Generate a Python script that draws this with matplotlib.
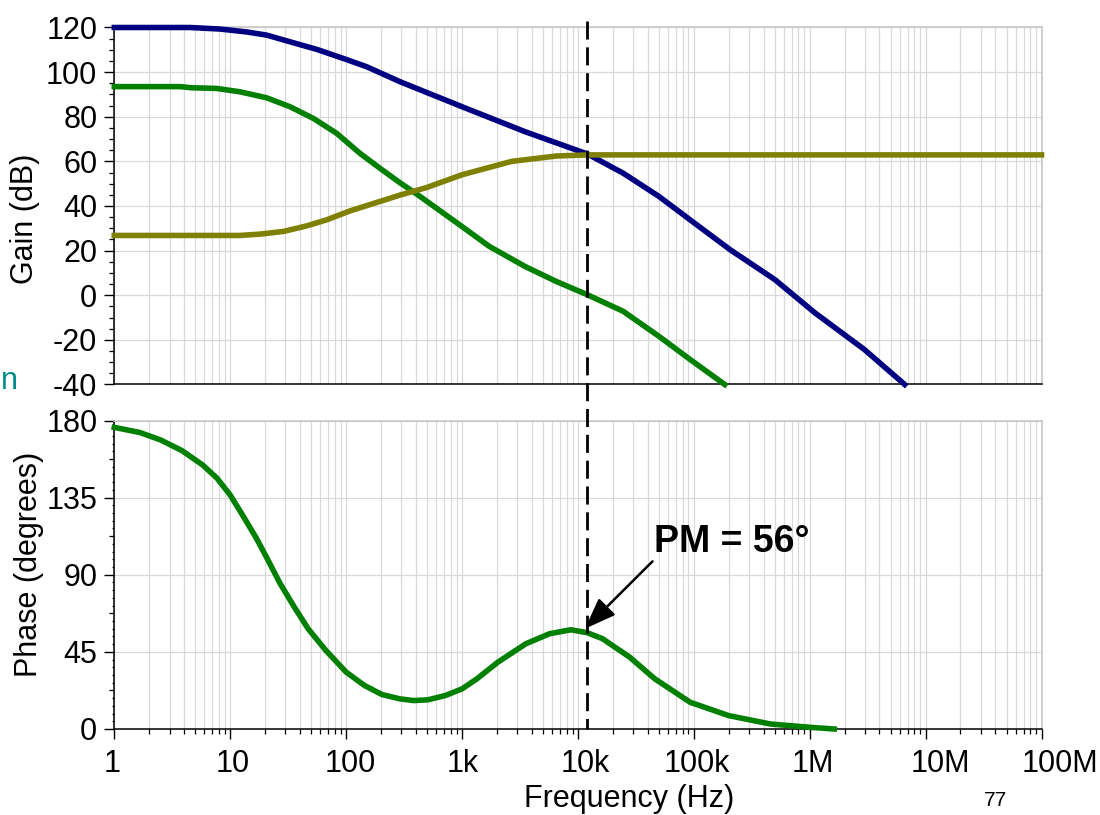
import matplotlib
matplotlib.use("Agg")
import matplotlib.pyplot as plt
from matplotlib.ticker import FixedLocator, LogLocator, NullFormatter, FixedFormatter
from matplotlib.lines import Line2D
from matplotlib.transforms import blended_transform_factory, ScaledTranslation
import numpy as np

plt.rcParams['font.family'] = ['Liberation Sans', 'DejaVu Sans']
plt.rcParams['axes.unicode_minus'] = False

# ---------------- data ----------------
# open-loop gain A (navy)
a_freq = [1, 4.5, 8.2, 13.9, 20.6, 32.8, 55.8, 95, 150.7, 292, 1000, 3500, 12100,
          24600, 50000, 101600, 206000, 501000, 1110000, 2960000, 6600000]
a_gain = [120, 120, 119.3, 118, 116.6, 113.6, 110.2, 106.1, 102.4, 95.7, 84.5, 73.3, 63.3,
          54.7, 44.3, 32.3, 20.4, 7, -7.9, -24.3, -40]

# loop gain T (green)
t_freq = [1, 3.7, 4.6, 7.6, 12.1, 20.6, 32.8, 52, 82.8, 131.7, 196, 292, 416, 1000,
          1720, 3500, 6500, 12100, 24600, 50000, 93000, 185000]
t_gain = [93.5, 93.5, 93, 92.7, 91.2, 88.5, 84.5, 79.3, 72.6, 63.6, 56.9, 50.4, 45, 30.8,
          21.9, 12.9, 6.2, 0.2, -7.2, -18.4, -28.8, -40]

# 1/beta (olive)
b_freq = [1, 12.1, 18.1, 28.8, 45.8, 68, 108, 184, 292, 497, 1000, 2680, 6500, 12100,
          17200, 1e8]
b_gain = [26.8, 26.8, 27.4, 28.6, 31.1, 33.8, 37.8, 41.6, 44.9, 48.3, 54, 60, 62.4, 62.9,
          62.9, 62.9]

# loop phase (green)
p_freq = [1, 1.66, 2.5, 3.84, 5.8, 7.7, 10, 12.6, 16.6, 20.5, 27, 35.7, 47, 67, 100, 144,
          204, 290, 382, 505, 716, 1000, 1340, 2040, 3550, 5700, 8700, 12000, 16300,
          28000, 46000, 93000, 200000, 460000, 1000000, 1630000]
p_phase = [176, 173, 168.7, 162.4, 154, 146.3, 136.5, 125.5, 112, 100.4, 84.8, 71.2, 58.5,
           45.8, 33.2, 25.4, 20.1, 17.6, 16.6, 17, 19.5, 23.4, 29.2, 39, 49.7, 55.6, 57.9,
           56.2, 52.7, 41.9, 29.3, 15.6, 7.8, 2.9, 1, 0]

crossover_freq = 12000
pm_text = "PM = 56°"
pm_tip = (11500, 58.5)
pm_tail = (44000, 97.8)
pm_text_pos = (45400, 103.4)

x_ticks = [1, 10, 100, 1e3, 1e4, 1e5, 1e6, 1e7, 1e8]
x_ticklabels = ['1', '10', '100', '1k', '10k', '100k', '1M', '10M', '100M']
x_label_shift_px = [-2, 2, 4, 1, 7, 3, 3, 15, 18]
gain_ticks = [-40, -20, 0, 20, 40, 60, 80, 100, 120]
phase_ticks = [0, 45, 90, 135, 180]

# ---------------- figure ----------------
W, H = 1100, 815
fig = plt.figure(figsize=(W / 100, H / 100), dpi=100)
L, R = 114.3, 1041.5
ax1 = fig.add_axes([L / W, 1 - 384.5 / H, (R - L) / W, 357 / H])
ax2 = fig.add_axes([L / W, 1 - 729 / H, (R - L) / W, 308.5 / H])

navy = '#000080'
green = '#008000'
olive = '#808000'
gridc = '#d9d9d9'
FS = 22
LW = 4.0

for ax in (ax1, ax2):
    ax.set_xscale('log')
    ax.set_xlim(1, 1e8)
    ax.xaxis.set_major_locator(FixedLocator(x_ticks))
    ax.xaxis.set_minor_locator(LogLocator(base=10, subs=np.arange(2, 10), numticks=100))
    ax.xaxis.set_minor_formatter(NullFormatter())
    ax.grid(True, which='major', axis='both', color=gridc, lw=0.9)
    ax.grid(True, which='minor', axis='x', color=gridc, lw=0.9)
    ax.set_axisbelow(True)
    for s in ('top', 'right'):
        ax.spines[s].set_color('#c8c8c8')
        ax.spines[s].set_linewidth(1.2)
    for s in ('left', 'bottom'):
        ax.spines[s].set_color('black')
        ax.spines[s].set_linewidth(1.1)
    ax.tick_params(which='major', direction='out', length=7.2, width=1.0,
                   labelsize=FS, pad=5)
    ax.tick_params(which='minor', direction='out', length=3.6, width=0.9)
    ax.tick_params(top=False, right=False, which='both')

# top: gain
ax1.plot(a_freq, a_gain, color=navy, lw=LW, clip_on=False, zorder=3)
ax1.plot(t_freq, t_gain, color=green, lw=LW, clip_on=False, zorder=3)
ax1.plot(b_freq, b_gain, color=olive, lw=LW, clip_on=False, zorder=3)
ax1.set_ylim(-40, 120)
ax1.set_yticks(gain_ticks)
ax1.yaxis.set_minor_locator(FixedLocator(np.arange(-40, 121, 5)))
ax1.tick_params(axis='x', which='both', length=0, labelbottom=False)
ax1.set_ylabel('Gain (dB)', fontsize=FS)
ax1.yaxis.set_label_coords(-0.080, 0.464)

# bottom: phase
ax2.plot(p_freq, p_phase, color=green, lw=LW, clip_on=False, zorder=3)
ax2.set_ylim(0, 180)
ax2.set_yticks(phase_ticks)
ax2.yaxis.set_minor_locator(FixedLocator(np.arange(0, 180.1, 4.5)))
ax2.tick_params(axis='y', which='minor', length=1.8)
ax2.set_xticks(x_ticks)
ax2.xaxis.set_major_formatter(FixedFormatter(x_ticklabels))
ax2.tick_params(axis='x', which='major', pad=7)
ax2.set_ylabel('Phase (degrees)', fontsize=FS)
ax2.yaxis.set_label_coords(-0.076, 0.535)
ax2.set_xlabel('Frequency (Hz)', fontsize=FS)
ax2.xaxis.set_label_coords(0.555, -0.178)
sec = ax2.secondary_yaxis('left')
sec.set_yticks([22.5, 67.5, 112.5, 157.5])
sec.tick_params(length=3.6, width=0.9, labelleft=False, direction='out')
sec.spines['left'].set_visible(False)

# small per-label horizontal shifts as in the reference
for lab, dx in zip(ax2.get_xticklabels(), x_label_shift_px):
    lab.set_transform(lab.get_transform() + ScaledTranslation(dx / 100, 0, fig.dpi_scale_trans))

# dashed crossover line spanning both panels
tr = blended_transform_factory(ax2.transData, fig.transFigure)
fig.add_artist(Line2D([crossover_freq, crossover_freq], [1 - 20.7 / H, 1 - 729 / H],
                      transform=tr, color='black', lw=2.0,
                      linestyle=(0, (6.5, 2.8)), zorder=10))

# annotation
ax2.annotate('', xy=pm_tip, xytext=pm_tail,
             arrowprops=dict(arrowstyle='-|>,head_length=0.8,head_width=0.3',
                             mutation_scale=24, color='black', lw=1.8,
                             shrinkA=0, shrinkB=0), zorder=11)
ax2.text(pm_text_pos[0], pm_text_pos[1], pm_text, fontsize=27, fontweight='bold',
         ha='left', va='baseline', zorder=11)

# stray texts
fig.text(0.5 / W, 1 - 389 / H, 'n', color='#008b8b', fontsize=FS, ha='left',
         va='baseline')
fig.text(996 / W, 1 - 801 / H, '77', fontsize=15, ha='center', va='center')

fig.savefig('out.png', dpi=100)
